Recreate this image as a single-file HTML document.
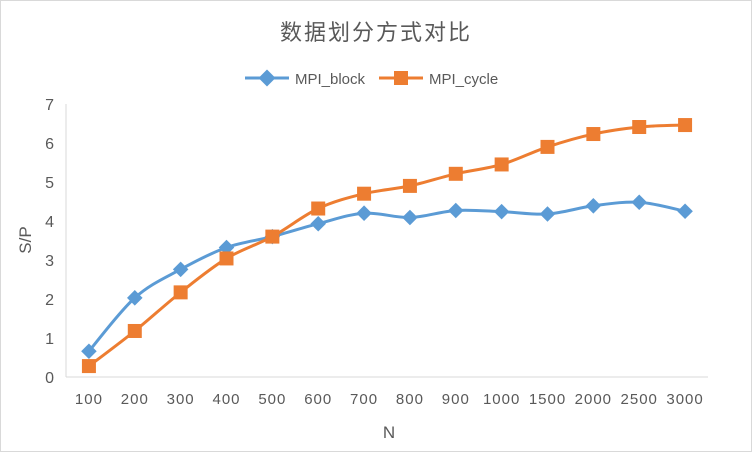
<!DOCTYPE html>
<html><head><meta charset="utf-8"><style>
body{margin:0;background:#fff}
svg{display:block;font-family:"Liberation Sans","Noto Sans CJK SC",sans-serif}
</style></head><body>
<svg width="752" height="452">
<rect x="0.5" y="0.5" width="751" height="451" fill="#fff" stroke="#d9d9d9"/>
<text x="376" y="40" text-anchor="middle" font-size="22" fill="#595959" letter-spacing="2">数据划分方式对比</text>
<g>
<g>
<line x1="245" y1="78" x2="289" y2="78" stroke="#5b9bd5" stroke-width="3"/>
<rect x="261" y="72" width="12" height="12" fill="#5b9bd5" transform="rotate(45 267 78)"/>
<text x="295" y="84" font-size="15" fill="#595959">MPI_block</text></g>
<g>
<line x1="379" y1="78" x2="423" y2="78" stroke="#ed7d31" stroke-width="3"/>
<rect x="394" y="71" width="14" height="14" fill="#ed7d31"/>
<text x="429" y="84" font-size="15" fill="#595959">MPI_cycle</text></g>
</g>
<g id="axes"></g>
<g id="plot"></g>
<text transform="translate(31 240) rotate(-90)" text-anchor="middle" font-size="17" fill="#595959">S/P</text>
<text x="389" y="438" text-anchor="middle" font-size="17" fill="#595959">N</text>
</svg>
<script>
const categories=["100","200","300","400","500","600","700","800","900","1000","1500","2000","2500","3000"];
const blockValues=[0.66,2.03,2.76,3.32,3.6,3.93,4.2,4.09,4.27,4.24,4.18,4.39,4.48,4.25];
const cycleValues=[0.28,1.18,2.17,3.04,3.6,4.32,4.7,4.9,5.21,5.45,5.9,6.23,6.41,6.46];
const yTicks=[0,1,2,3,4,5,6,7];
const NS="http://www.w3.org/2000/svg";
const L=66,R=708,T=104,B=377,YMAX=7;
const band=(R-L)/categories.length;
const xs=i=>L+band*(i+0.5);
const ys=v=>B-(B-T)*v/YMAX;
function mk(t,a,p){const e=document.createElementNS(NS,t);for(const k in a)e.setAttribute(k,a[k]);p.appendChild(e);return e;}
const ax=document.getElementById('axes'),pl=document.getElementById('plot');
const yl=mk('line',{x1:L,y1:T,x2:L,y2:B,stroke:'#d9d9d9'},ax);


const xl=mk('line',{x1:L,y1:B,x2:R,y2:B,stroke:'#d9d9d9'},ax);


yTicks.forEach(v=>{const t=mk('text',{x:54,y:ys(v)+6,'text-anchor':'end','font-size':16,fill:'#595959'},ax);t.textContent=v;

});
categories.forEach((c,i)=>{const t=mk('text',{x:xs(i),y:404,'text-anchor':'middle','font-size':15,fill:'#595959','letter-spacing':'1'},ax);t.textContent=c;

});
function path(vals){const p=vals.map((v,i)=>[xs(i),ys(v)]);let d='M'+p[0];
for(let i=0;i<p.length-1;i++){const p0=p[i-1]||p[i],p1=p[i],p2=p[i+1],p3=p[i+2]||p2;const k=1/6;
d+=` C${p1[0]+(p2[0]-p0[0])*k},${p1[1]+(p2[1]-p0[1])*k} ${p2[0]-(p3[0]-p1[0])*k},${p2[1]-(p3[1]-p1[1])*k} ${p2[0]},${p2[1]}`;}return d;}
const lb=mk('path',{d:path(blockValues),fill:'none',stroke:'#5b9bd5','stroke-width':3},pl);


const lc=mk('path',{d:path(cycleValues),fill:'none',stroke:'#ed7d31','stroke-width':3},pl);


blockValues.forEach((v,i)=>{const x=xs(i),y=ys(v);const m=mk('rect',{x:x-5.5,y:y-5.5,width:11,height:11,fill:'#5b9bd5',transform:`rotate(45 ${x} ${y})`},pl);

});
cycleValues.forEach((v,i)=>{const x=xs(i),y=ys(v);const m=mk('rect',{x:x-7,y:y-7,width:14,height:14,fill:'#ed7d31'},pl);

});
</script>
</body></html>
